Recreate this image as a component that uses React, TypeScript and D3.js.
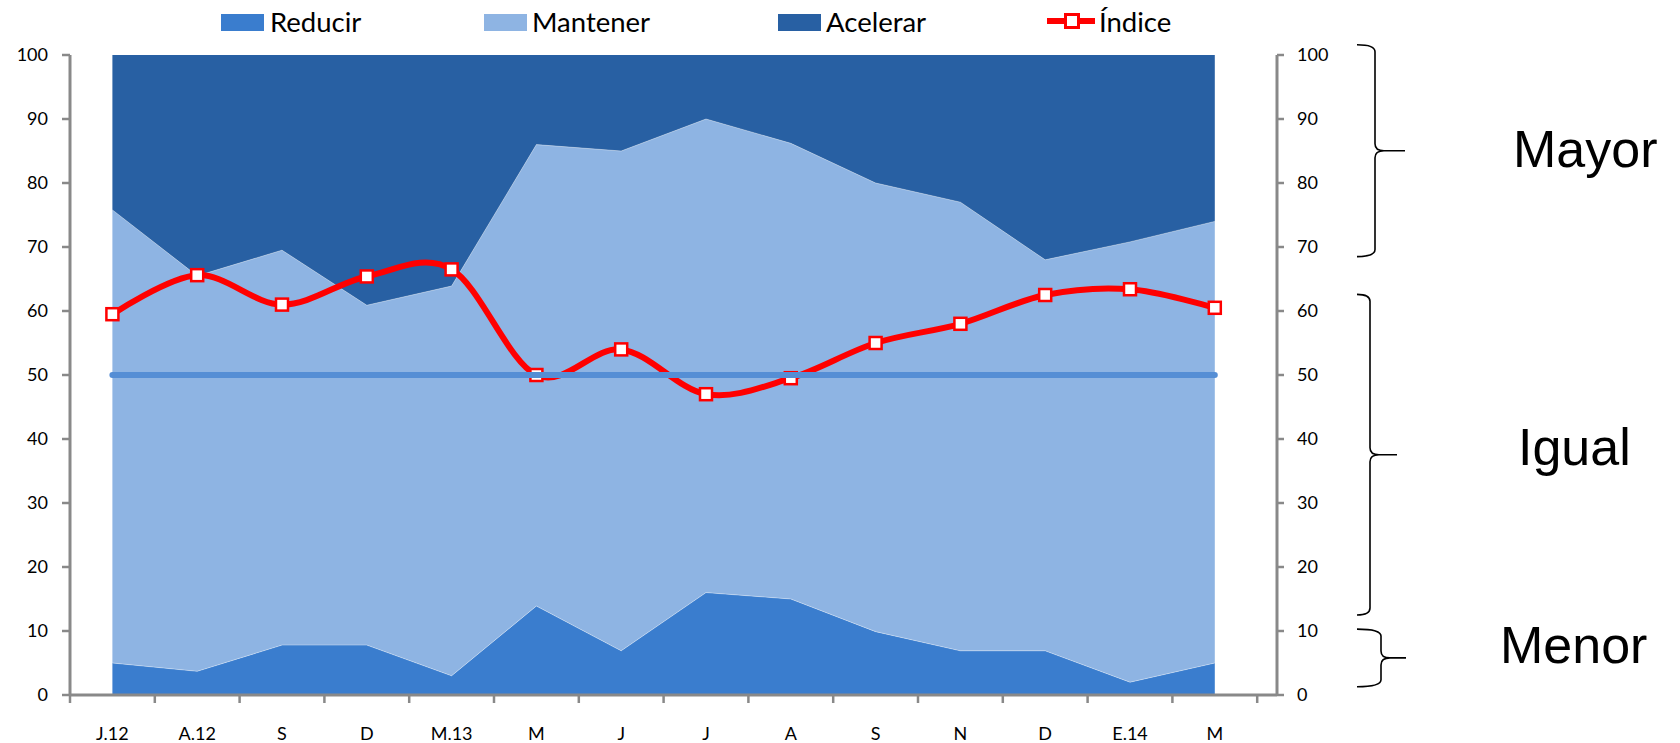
import React from "react";
import * as d3 from "d3";

const categories = ["J.12", "A.12", "S", "D", "M.13", "M", "J", "J", "A", "S", "N", "D", "E.14", "M"];
const reducir = [5, 3.7, 7.8, 7.8, 3, 13.9, 6.9, 16, 15, 9.9, 6.9, 6.9, 2, 5];
const mantener = [70.8, 61.8, 61.7, 53.1, 60.9, 72.1, 78.1, 74, 71.2, 70.1, 70.1, 61.1, 68.8, 69];
const acelerar = [24.2, 34.5, 30.5, 39.1, 36.1, 14, 15, 10, 13.8, 20, 23, 32, 29.2, 26];
const indice = [59.5, 65.6, 61, 65.4, 66.5, 50, 54, 47, 49.5, 55, 58, 62.5, 63.4, 60.5];
const yTicks = [0, 10, 20, 30, 40, 50, 60, 70, 80, 90, 100];
const referenceValue = 50;
const seriesNames = ["Reducir", "Mantener", "Acelerar"];
const braceLabels = ["Mayor", "Igual", "Menor"];
const braceTop = [101.6, 62.6, 10.3];
const braceBottom = [68.5, 12.5, 1.3];
const labelValue = [82.5, 35.9, 5.05];

const W = 1680;
const H = 743;
const COLORS: Record<string, string> = {
  Reducir: "#3A7DCE",
  Mantener: "#8EB4E3",
  Acelerar: "#2860A3",
};
const TICK_FONT = "Lato, 'Noto Sans', sans-serif";
const BIG_FONT = "'Liberation Sans', Arial, sans-serif";

export default function App() {
  const left = 70;
  const band = 84.8;
  const rightAxis = 1277;
  const x = d3
    .scaleBand<number>()
    .domain(categories.map((_, i) => i))
    .range([left, left + band * categories.length])
    .padding(0);
  const cx = (i: number) => (x(i) as number) + x.bandwidth() / 2;
  const y = d3.scaleLinear().domain([0, 100]).range([695, 55]);

  const rows = categories.map((c, i) => ({
    i,
    Reducir: reducir[i],
    Mantener: mantener[i],
    Acelerar: acelerar[i],
  }));
  const stacked = d3.stack<any>().keys(seriesNames)(rows);
  const area = d3
    .area<any>()
    .x((d) => cx(d.data.i))
    .y0((d) => y(d[0]))
    .y1((d) => y(d[1]))
    .curve(d3.curveLinear);
  const topLine = d3
    .line<any>()
    .x((d) => cx(d.data.i))
    .y((d) => y(d[1]));

  const idxLine = d3
    .line<number>()
    .x((_, i) => cx(i))
    .y((d) => y(d))
    .curve(d3.curveCatmullRom.alpha(0));

  const boundaries = d3.range(categories.length + 1).map((k) => left + k * band);

  const braceX = [
    { xv: 1375, xt: 1405 },
    { xv: 1370, xt: 1397 },
    { xv: 1381, xt: 1406 },
  ];
  const labelX = [1513, 1518, 1500];
  const x0 = 1357;
  const bracePath = (k: number) => {
    const yt = y(braceTop[k]);
    const yb = y(braceBottom[k]);
    const ym = (yt + yb) / 2;
    const { xv, xt } = braceX[k];
    const r = 7;
    return (
      `M${x0},${yt} Q${xv},${yt} ${xv},${yt + r} L${xv},${ym - r} Q${xv},${ym} ${xv + 9},${ym} L${xt},${ym}` +
      ` M${xv + 9},${ym} Q${xv},${ym} ${xv},${ym + r} L${xv},${yb - r} Q${xv},${yb} ${x0},${yb}`
    );
  };

  const legendItems = [
    { name: "Reducir", sx: 221, tx: 270 },
    { name: "Mantener", sx: 484, tx: 532 },
    { name: "Acelerar", sx: 778, tx: 826 },
  ];

  const axisColor = "#898989";

  return (
    <svg
      width={W}
      height={H}
      viewBox={`0 0 ${W} ${H}`}
      style={{ position: "absolute", left: 0, top: 0, display: "block", background: "#fff" }}
    >
      {/* stacked areas */}
      {stacked.map((s) => (
        <path key={s.key} d={area(s) as string} fill={COLORS[s.key]} />
      ))}
      {stacked.slice(0, 2).map((s) => (
        <path
          key={"b" + s.key}
          d={topLine(s) as string}
          fill="none"
          stroke="#ffffff"
          strokeOpacity={0.35}
          strokeWidth={1}
        />
      ))}

      {/* left axis */}
      <line x1={left} x2={left} y1={y(100)} y2={y(0)} stroke={axisColor} strokeWidth={3} />
      {yTicks.map((t) => (
        <g key={"l" + t}>
          <line x1={left - 8} x2={left} y1={y(t)} y2={y(t)} stroke={axisColor} strokeWidth={2.5} />
          <text
            x={48}
            y={y(t)}
            dy="0.36em"
            textAnchor="end"
            fontFamily={TICK_FONT}
            fontSize={18}
            fill="#000"
          >
            {t}
          </text>
        </g>
      ))}

      {/* right axis */}
      <line x1={rightAxis} x2={rightAxis} y1={y(100)} y2={y(0)} stroke={axisColor} strokeWidth={3} />
      {yTicks.map((t) => (
        <g key={"r" + t}>
          <line x1={rightAxis} x2={rightAxis + 7} y1={y(t)} y2={y(t)} stroke={axisColor} strokeWidth={2.5} />
          <text
            x={1297}
            y={y(t)}
            dy="0.36em"
            textAnchor="start"
            fontFamily={TICK_FONT}
            fontSize={18}
            fill="#000"
          >
            {t}
          </text>
        </g>
      ))}

      {/* x axis */}
      <line x1={left} x2={rightAxis} y1={y(0)} y2={y(0)} stroke={axisColor} strokeWidth={3} />
      {boundaries.map((b, k) => (
        <line key={"xt" + k} x1={b} x2={b} y1={y(0)} y2={y(0) + 8} stroke={axisColor} strokeWidth={2.5} />
      ))}
      {categories.map((c, i) => (
        <text
          key={"xl" + i}
          x={cx(i)}
          y={740}
          textAnchor="middle"
          fontFamily={TICK_FONT}
          fontSize={18}
          fill="#000"
        >
          {c}
        </text>
      ))}

      {/* index line */}
      <path d={idxLine(indice) as string} fill="none" stroke="#FF0000" strokeWidth={6} strokeLinejoin="round" />
      {indice.map((v, i) => (
        <rect
          key={"m" + i}
          x={cx(i) - 6}
          y={y(v) - 6}
          width={12}
          height={12}
          fill="#ffffff"
          stroke="#FF0000"
          strokeWidth={2.5}
        />
      ))}

      {/* reference line at 50 */}
      <line
        x1={cx(0)}
        x2={cx(categories.length - 1)}
        y1={y(referenceValue)}
        y2={y(referenceValue)}
        stroke="#558ED5"
        strokeWidth={6}
        strokeLinecap="round"
      />

      {/* legend */}
      {legendItems.map((it) => (
        <g key={"lg" + it.name}>
          <rect x={it.sx} y={14} width={43} height={17} fill={COLORS[it.name]} />
          <text x={it.tx} y={31.5} fontFamily={TICK_FONT} fontSize={27.5} fill="#000">
            {it.name}
          </text>
        </g>
      ))}
      <g>
        <line x1={1047} x2={1095} y1={21} y2={21} stroke="#FF0000" strokeWidth={6} />
        <rect x={1065.5} y={14.5} width={13} height={13} fill="#fff" stroke="#FF0000" strokeWidth={3} />
        <text x={1099} y={31.5} fontFamily={TICK_FONT} fontSize={27.5} fill="#000">
          Índice
        </text>
      </g>

      {/* braces and labels */}
      {braceLabels.map((lab, k) => (
        <g key={"br" + lab}>
          <path d={bracePath(k)} fill="none" stroke="#000" strokeWidth={1.6} />
          <text x={labelX[k]} y={y(labelValue[k])} fontFamily={BIG_FONT} fontSize={52} fill="#000">
            {lab}
          </text>
        </g>
      ))}
    </svg>
  );
}
